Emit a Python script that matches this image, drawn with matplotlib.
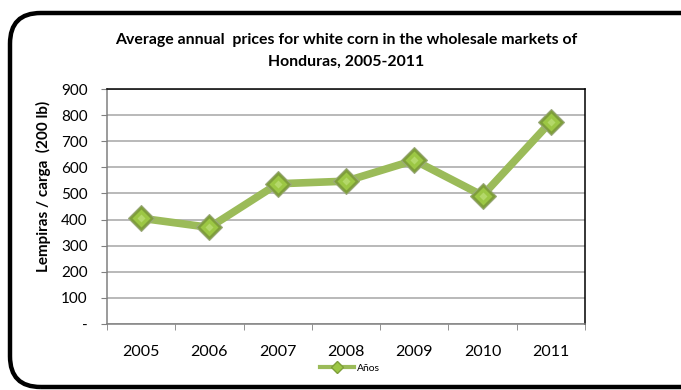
import matplotlib
matplotlib.use("Agg")
import matplotlib.pyplot as plt
from matplotlib.patches import FancyBboxPatch
from matplotlib.lines import Line2D

years = ["2005", "2006", "2007", "2008", "2009", "2010", "2011"]
prices = [405, 370, 537, 547, 627, 492, 775]
y_ticks = [0, 100, 200, 300, 400, 500, 600, 700, 800, 900]
y_tick_labels = ["-", "100", "200", "300", "400", "500", "600", "700", "800", "900"]

plt.rcParams["font.family"] = ["Lato", "DejaVu Sans"]

W, H = 681, 390
fig = plt.figure(figsize=(W / 100, H / 100), dpi=100)

# rounded outer frame
frame = FancyBboxPatch((10 / W, 3 / H), (W + 30) / W, 374 / H,
                       boxstyle="round,pad=0,rounding_size=0.045",
                       transform=fig.transFigure, fill=False,
                       edgecolor="black", linewidth=3.2, mutation_aspect=W / H)
fig.patches.append(frame)

ax = fig.add_axes([107 / W, 1 - 324 / H, (585 - 107) / W, (324 - 89) / H])
x = list(range(len(years)))

ax.plot(x, prices, color="#9BBB59", linewidth=5.5, solid_capstyle="butt", zorder=3)
# faceted diamond markers: dark rim, lighter body
ax.plot(x, prices, linestyle="none", marker="D", markersize=13,
        markerfacecolor="#7E9E3A", markeredgecolor="#9AA87A", markeredgewidth=0.8, zorder=4)
ax.plot(x, prices, linestyle="none", marker="D", markersize=9.5,
        markerfacecolor="#9CC744", markeredgecolor="none", zorder=5)
ax.plot(x, prices, linestyle="none", marker="D", markersize=4.5,
        markerfacecolor="#B4D86A", markeredgecolor="none", zorder=6)

ax.set_xlim(-0.5, len(years) - 0.5)
ax.set_ylim(0, 900)
ax.set_yticks(y_ticks)
ax.set_yticklabels(y_tick_labels)
ax.set_xticks(x)
ax.set_xticklabels(years)
ax.set_xticks([i - 0.5 for i in range(len(years) + 1)], minor=True)
ax.tick_params(axis="x", which="major", length=0, pad=15, labelsize=11.5)
ax.tick_params(axis="x", which="minor", length=4, color="#808080", direction="out")
ax.tick_params(axis="y", length=4, color="#808080", pad=10, labelsize=11)

ax.grid(axis="y", color="#A6A6A6", linewidth=1.1)
ax.set_axisbelow(True)
for side in ("left", "bottom"):
    ax.spines[side].set_color("#808080")
    ax.spines[side].set_linewidth(1.1)
for side in ("top", "right"):
    ax.spines[side].set_color("black")
    ax.spines[side].set_linewidth(1.1)

fig.text(43 / W, 1 - 186 / H, "Lempiras / carga  (200 lb)", rotation=90,
         ha="center", va="center", fontsize=11, fontweight="bold")

fig.text(346 / W, 1 - 40 / H,
         "Average annual  prices for white corn in the wholesale markets of",
         ha="center", va="center", fontsize=11.4, fontweight="bold")
fig.text(346 / W, 1 - 62 / H, "Honduras, 2005-2011",
         ha="center", va="center", fontsize=11.4, fontweight="bold")

handle = Line2D([], [], color="#9BBB59", linewidth=3, marker="D", markersize=6,
                markerfacecolor="#9CC744", markeredgecolor="#7E9E3A")
fig.legend([handle], ["Años"], loc="center", bbox_to_anchor=(350 / W, 1 - 368 / H),
           frameon=False, fontsize=7.5, handlelength=3.2, handletextpad=0.3,
           borderaxespad=0, borderpad=0)

fig.savefig("out.png", dpi=100)
